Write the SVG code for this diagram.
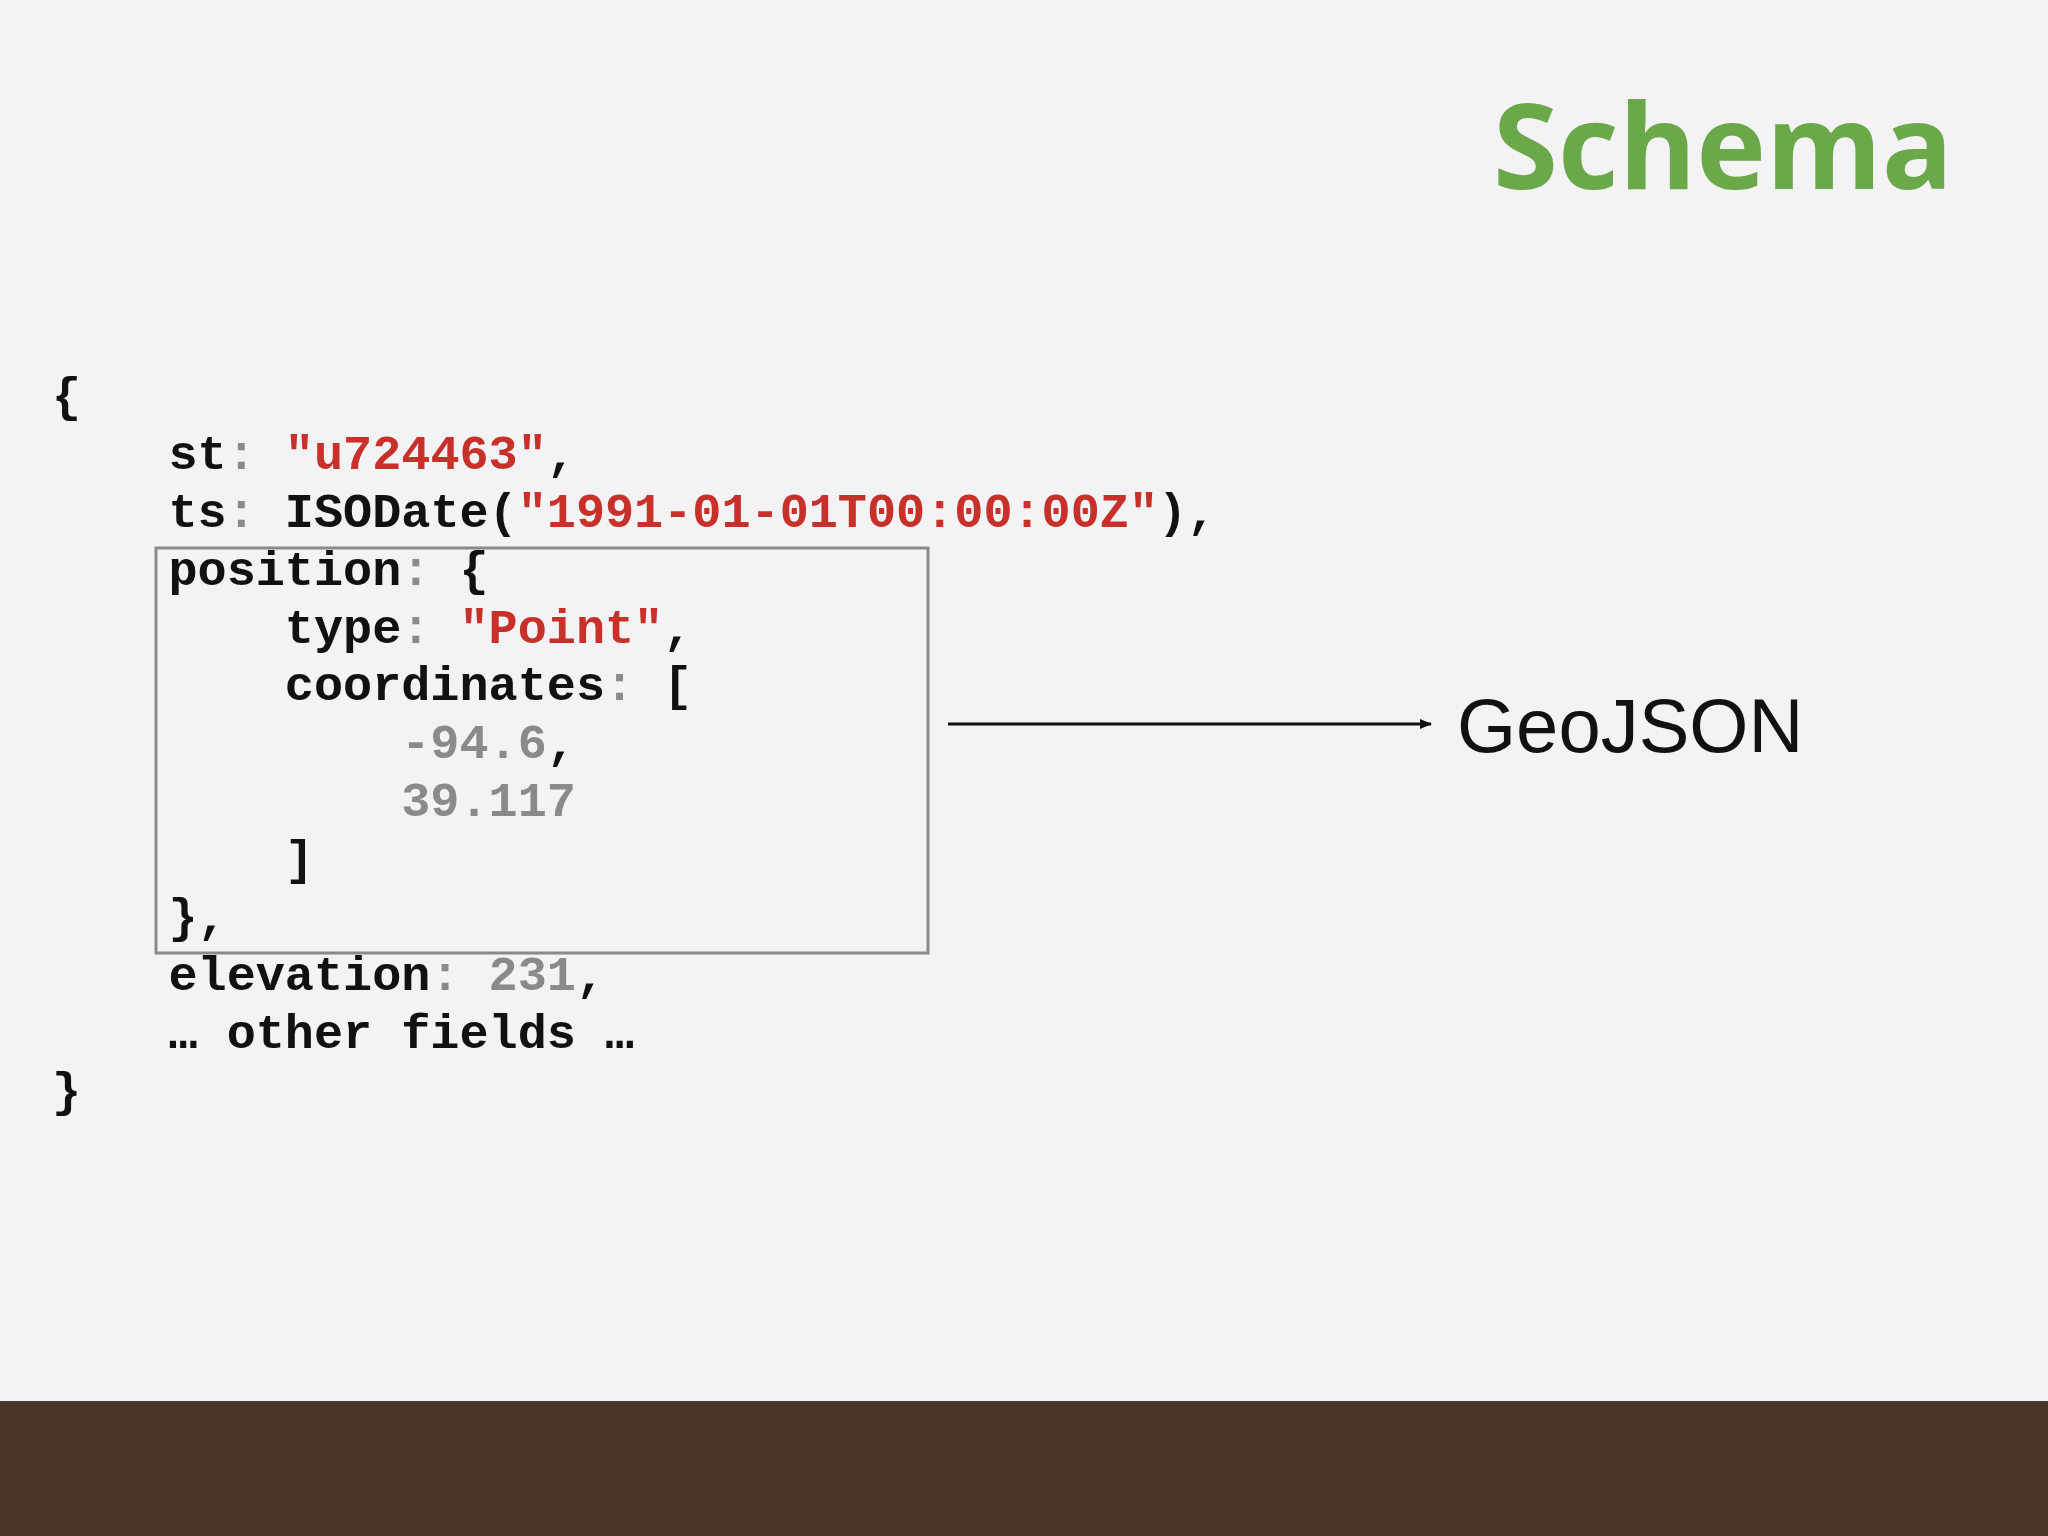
<svg xmlns="http://www.w3.org/2000/svg" width="2048" height="1536" viewBox="0 0 2048 1536">
<style>
.c{font-family:"Liberation Mono","Courier New",monospace;font-weight:bold;font-size:48.5px;fill:#111;white-space:pre}
.g{fill:#8a8a8a}.r{fill:#c8302a}
</style>
<defs><marker id="ah" markerWidth="12" markerHeight="10" refX="11" refY="5" orient="auto" markerUnits="userSpaceOnUse"><path d="M0,0 L12,5 L0,10 Z" fill="#111"/></marker></defs>
<rect width="2048" height="1536" fill="#f3f3f5"/>
<rect y="1401" width="2048" height="135" fill="#4b362b"/>
<text x="1493" y="189" font-family="Open Sans,Liberation Sans,sans-serif" font-weight="bold" font-size="118" fill="#6aa84a">Schema</text>
<g id="code" xml:space="preserve">
<text class="c" x="52" y="411">{</text>
<text class="c" x="52" y="469">    st<tspan class="g">:</tspan> <tspan class="r">"u724463"</tspan>,</text>
<text class="c" x="52" y="527">    ts<tspan class="g">:</tspan> ISODate(<tspan class="r">"1991-01-01T00:00:00Z"</tspan>),</text>
<text class="c" x="52" y="585">    position<tspan class="g">:</tspan> {</text>
<text class="c" x="52" y="643">        type<tspan class="g">:</tspan> <tspan class="r">"Point"</tspan>,</text>
<text class="c" x="52" y="700">        coordinates<tspan class="g">:</tspan> [</text>
<text class="c" x="52" y="758">            <tspan class="g">-94.6</tspan>,</text>
<text class="c" x="52" y="816">            <tspan class="g">39.117</tspan></text>
<text class="c" x="52" y="874">        ]</text>
<text class="c" x="52" y="932">    },</text>
<text class="c" x="52" y="990">    elevation<tspan class="g">:</tspan> <tspan class="g">231</tspan>,</text>
<text class="c" x="52" y="1048">    … other fields …</text>
<text class="c" x="52" y="1106">}</text>
</g>
<g id="box"><rect x="156" y="548" width="772" height="405" fill="none" stroke="#8a8a8a" stroke-width="3"/></g>
<g id="connectors"><line x1="948" y1="724" x2="1431" y2="724" stroke="#111" stroke-width="3" marker-end="url(#ah)"/></g>
<g id="geojson"><text x="1457" y="752" font-family="Liberation Sans,Arial,sans-serif" font-size="76" fill="#111">GeoJSON</text></g>
</svg>
